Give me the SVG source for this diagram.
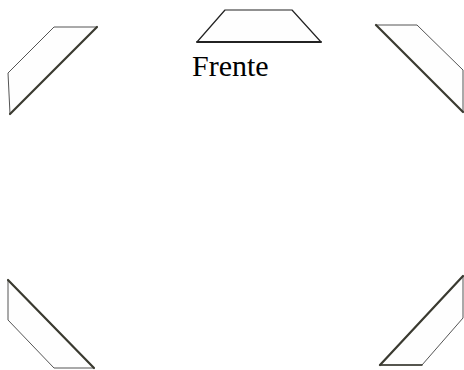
<svg xmlns="http://www.w3.org/2000/svg" width="464" height="370" viewBox="0 0 464 370">
<style>
.fill{fill:#fefefe;stroke:#555;stroke-width:1;stroke-linejoin:round}
.thick{fill:none;stroke:#3a3a30;stroke-width:2.2;stroke-linecap:round}
.thin{fill:none;stroke:#444;stroke-width:1}
.lbl{font-family:"Liberation Serif","Times New Roman",serif;font-size:30px;fill:#000}
</style>
<rect width="464" height="370" fill="#fff"/>
<g id="front">
<polygon class="fill" points="225,10 292,10 321,42 197,42" style="stroke:#222;stroke-width:1.2"/>
<line class="thick" x1="197" y1="42" x2="321" y2="42" style="stroke:#222;stroke-width:1.8"/>
<text class="lbl" x="192" y="76">Frente</text>
</g>
<g id="top-left">
<polygon class="fill" points="54,27 97,27 10,114 8,73"/>
<line class="thick" x1="97" y1="27" x2="10" y2="114"/>
</g>
<g id="top-right">
<polygon class="fill" points="376,25 417,25 463,70 463,112"/>
<line class="thick" x1="376" y1="25" x2="463" y2="112"/>
</g>
<g id="bottom-left">
<polygon class="fill" points="8,280 8,320 54,368 94,368"/>
<line class="thick" x1="8" y1="280" x2="94" y2="368"/>
</g>
<g id="bottom-right">
<polygon class="fill" points="463,276 463,318 422,365 380,365"/>
<line class="thick" x1="463" y1="276" x2="380" y2="365"/>
<line class="thick" x1="380" y1="365" x2="422" y2="365" style="stroke-width:1.5"/>
</g>
</svg>
